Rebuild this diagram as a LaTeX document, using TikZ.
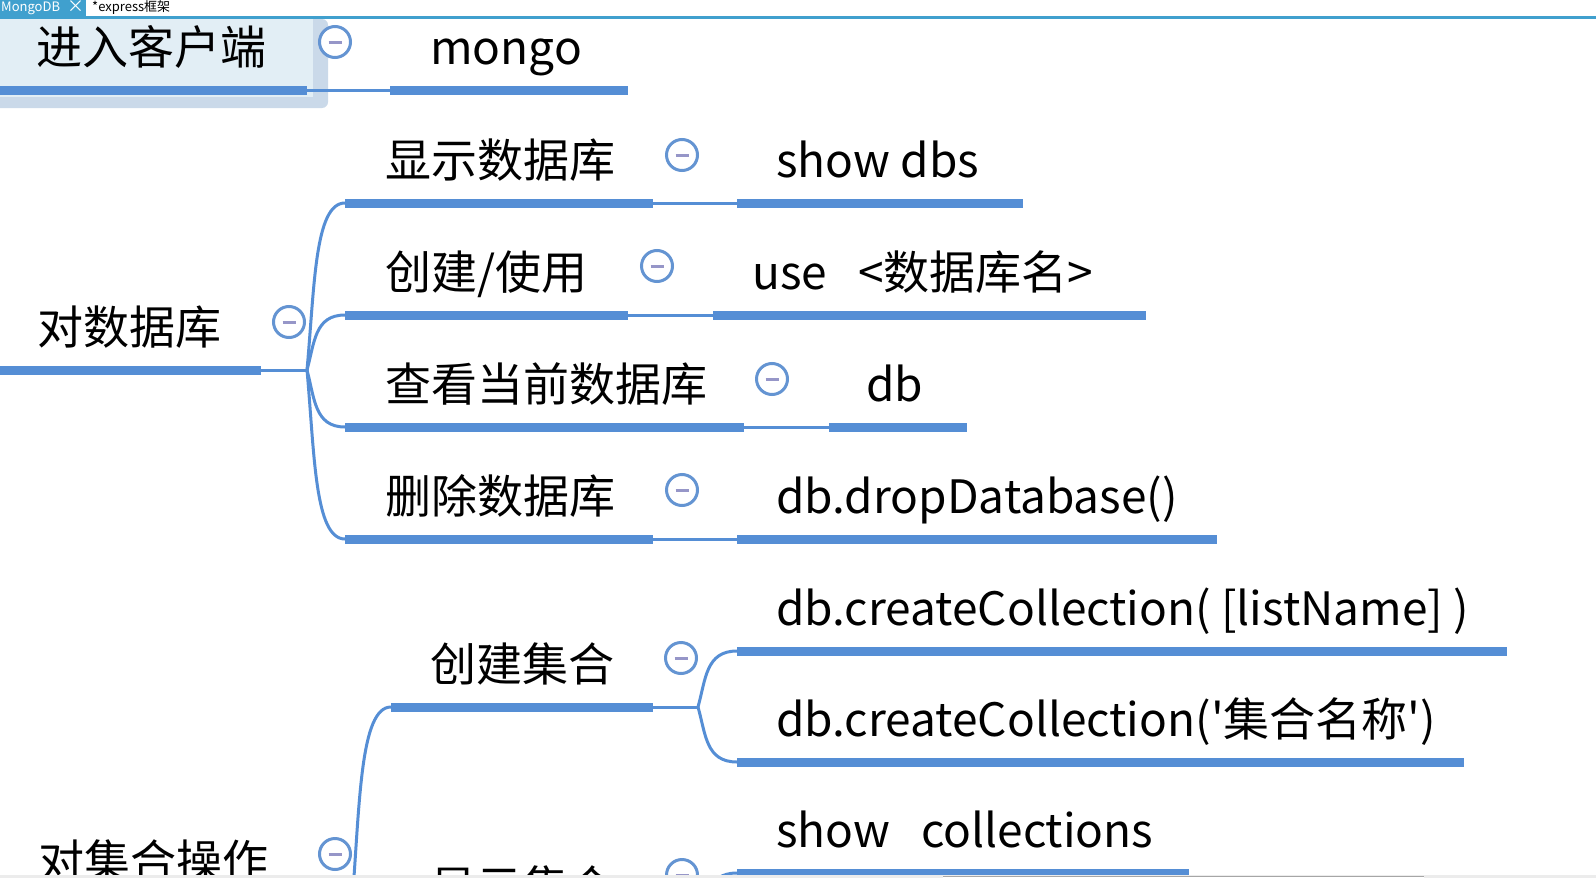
\documentclass[tikz,border=0pt]{standalone}
\usepackage{fontspec}
\newfontfamily\yh{Noto Sans CJK SC}
\usetikzlibrary{calc}
\definecolor{lineblue}{RGB}{85,142,213}
\definecolor{tabblue}{RGB}{64,160,206}
\definecolor{foldblue}{RGB}{100,148,210}
\definecolor{minuscol}{RGB}{150,150,200}
\definecolor{boxcol}{RGB}{226,238,245}
\definecolor{framecol}{RGB}{202,217,233}
\definecolor{stripcol}{RGB}{236,236,236}
\begin{document}
\begin{tikzpicture}[x=1pt,y=-1pt,
  uline/.style={draw=lineblue, line width=9pt},
  thinl/.style={draw=lineblue, line width=3pt},
  branch/.style={thinl, to path={let \p1=(\tikztostart), \p2=(\tikztotarget) in
     .. controls ({\x1+0.2*(\x2-\x1)}, {0.5*(\y1+\y2)}) and ({\x1+0.2*(\x2-\x1)}, \y2) .. (\tikztotarget)}},
  txt/.style={inner sep=0pt, anchor=west, font=\yh\fontsize{46}{50}\selectfont, text height=40.5pt, text depth=5.5pt},
  tabtxt/.style={inner sep=0pt, anchor=west, font=\yh\fontsize{13}{15}\selectfont},
  fold/.style={circle, draw=foldblue, line width=3pt, fill=white, minimum size=31pt, inner sep=0pt,
     path picture={\draw[minuscol, line width=3pt] ($(path picture bounding box.center)+(-6.5pt,0)$) -- ++(13pt,0);}},
]
\useasboundingbox (0,0) rectangle (1596,878);
\clip (0,0) rectangle (1596,878);
\fill[white] (0,0) rectangle (1596,878);

% tab bar
\fill[tabblue] (0,0) rectangle (86,17);
\fill[tabblue] (0,16) rectangle (1596,19);
\node[tabtxt, text=white] (tab1) at (1,8) {MongoDB};
\node[tabtxt, text=white, font=\yh\fontsize{17}{17}\selectfont] (tabx) at (67,7) {×};
\node[tabtxt] (tab2) at (92,8) {*express框架};

% selected box
\fill[framecol, rounded corners=6pt] (-10,19) rectangle (328,108);
\fill[boxcol] (-10,19) rectangle (313,97);

% ---- 进入客户端 -> mongo
\coordinate (a1) at (0,90); \coordinate (a2) at (307,90);
\coordinate (m1) at (390,90); \coordinate (m2) at (628,90);
\draw[thinl] (a2) -- (m1);
\draw[uline] (a1) -- (a2);
\draw[uline] (m1) -- (m2);
\node[txt] (n1) at (36,47) {进入客户端};
\node[txt] (mongo) at (430,47) {mongo};
\node[fold] (f1) at (335,42) {};

% ---- 对数据库
\coordinate (b1) at (0,370); \coordinate (b2) at (261,370);
\coordinate (F1) at (307,370);
\draw[thinl] (b2) -- (F1);
\draw[uline] (b1) -- (b2);
\node[txt] (n2) at (37,327) {对数据库};
\node[fold] (f2) at (289,322) {};

\coordinate (c1s) at (345,203); \coordinate (c1e) at (653,203);
\coordinate (c2s) at (345,315); \coordinate (c2e) at (628,315);
\coordinate (c3s) at (345,427); \coordinate (c3e) at (744,427);
\coordinate (c4s) at (345,539); \coordinate (c4e) at (653,539);
\draw[branch] (F1) to (c1s);
\draw[branch] (F1) to (c2s);
\draw[branch] (F1) to (c3s);
\draw[branch] (F1) to (c4s);

\coordinate (l1s) at (737,203); \coordinate (l1e) at (1023,203);
\coordinate (l2s) at (713,315); \coordinate (l2e) at (1146,315);
\coordinate (l3s) at (829,427); \coordinate (l3e) at (967,427);
\coordinate (l4s) at (737,539); \coordinate (l4e) at (1217,539);
\draw[thinl] (c1e) -- (l1s);
\draw[thinl] (c2e) -- (l2s);
\draw[thinl] (c3e) -- (l3s);
\draw[thinl] (c4e) -- (l4s);
\draw[uline] (c1s) -- (c1e); \draw[uline] (l1s) -- (l1e);
\draw[uline] (c2s) -- (c2e); \draw[uline] (l2s) -- (l2e);
\draw[uline] (c3s) -- (c3e); \draw[uline] (l3s) -- (l3e);
\draw[uline] (c4s) -- (c4e); \draw[uline] (l4s) -- (l4e);

\node[txt] (t1) at (385,160) {显示数据库};
\node[txt] (s1) at (776,160) {show dbs};
\node[txt] (t2) at (385,272) {创建/使用};
\node[txt] (s2) at (752,272) {use~~~<数据库名>};
\node[txt] (t3) at (385,384) {查看当前数据库};
\node[txt] (s3) at (866,384) {db};
\node[txt] (t4) at (385,496) {删除数据库};
\node[txt] (s4) at (776,496) {db.dropDatabase()};
\node[fold] (g1) at (682,155) {};
\node[fold] (g2) at (657,266) {};
\node[fold] (g3) at (772,379) {};
\node[fold] (g4) at (682,490) {};

% ---- 对集合操作
\coordinate (F2) at (352,904);
\coordinate (d1s) at (391,707); \coordinate (d1e) at (653,707);
\coordinate (F3) at (698,707);
\draw[branch] (F2) to (d1s);
\draw[thinl] (d1e) -- (F3);
\draw[uline] (d1s) -- (d1e);
\coordinate (e1s) at (737,651); \coordinate (e1e) at (1507,651);
\coordinate (e2s) at (737,762); \coordinate (e2e) at (1464,762);
\draw[branch] (F3) to (e1s);
\draw[branch] (F3) to (e2s);
\draw[uline] (e1s) -- (e1e);
\draw[uline] (e2s) -- (e2e);
\coordinate (F4) at (698,928);
\coordinate (e3s) at (737,873); \coordinate (e3e) at (1189,873);
\draw[branch] (F4) to (e3s);
\draw[uline] (e3s) -- (e3e);

\node[txt] (n3) at (38,861) {对集合操作};
\node[fold] (f3) at (335,854) {};
\node[txt] (t5) at (430,664) {创建集合};
\node[fold] (g5) at (681,658) {};
\node[txt] (s5) at (776,608) {db.createCollection( [listName] )};
\node[txt] (s6) at (776,719) {db.createCollection('集合名称')};
\node[txt] (t6) at (430,887) {显示集合};
\node[fold] (g6) at (682,875) {};
\node[txt] (s7) at (776,830) {show~~~collections};

% bottom scroll strip
\fill[stripcol] (0,875) rectangle (1596,878);
\fill[white] (943,876) rectangle (1424,878);
\draw[gray!70, line width=1pt] (943,876.5) -- (1424,876.5);
\end{tikzpicture}
\end{document}
